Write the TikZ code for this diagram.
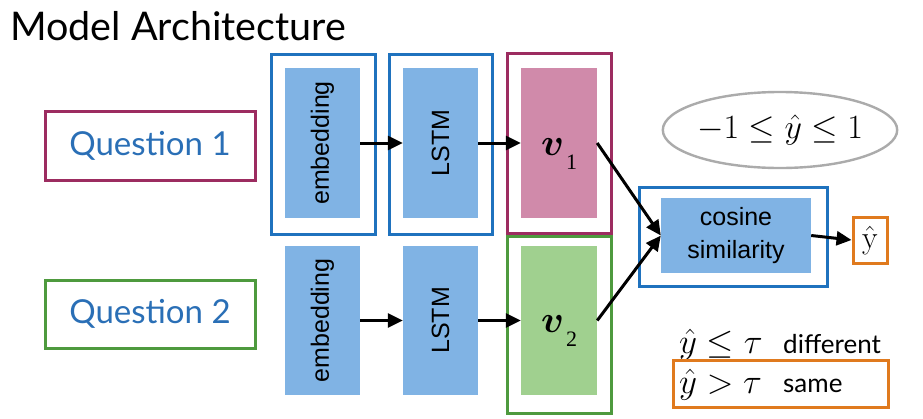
\RequirePackage{fix-cm}
\documentclass[tikz,border=0pt]{standalone}
\usepackage{amsmath,bm}
\usepackage[no-math]{fontspec}
\setmainfont{Lato}
\newfontfamily\arialf{Liberation Sans}
\newfontfamily\seriff{Liberation Serif}
\usetikzlibrary{arrows.meta,shapes.geometric}
\definecolor{bluel}{HTML}{1F72BE}
\definecolor{bluef}{HTML}{80B3E4}
\definecolor{maroonl}{HTML}{9C2C60}
\definecolor{pinkf}{HTML}{D08AAA}
\definecolor{greenl}{HTML}{4E9A3E}
\definecolor{greenf}{HTML}{A0D08F}
\definecolor{orangel}{HTML}{E07A1E}
\definecolor{qtext}{HTML}{2A6FB6}
\definecolor{greyl}{HTML}{ABABAB}
\newcommand{\vlab}[1]{$\bm{v}$\hspace{2pt}\raisebox{-14pt}{\seriff\fontsize{22}{22}\selectfont #1}}
\begin{document}
\begin{tikzpicture}[x=1pt,y=-1pt,
  outerbox/.style={draw,line width=3pt,minimum width=#1,inner sep=0pt},
  fillbox/.style={inner sep=0pt,minimum width=75pt,minimum height=150pt},
  vtext/.style={font=\arialf\fontsize{25}{30}\selectfont,rotate=90},
  vlabstyle/.style={anchor=base west,inner sep=0pt,font=\fontsize{38}{42}\selectfont},
  arr/.style={line width=3pt,-{Triangle[length=15pt,width=14pt]}},
  qtextstyle/.style={font=\fontsize{33}{40}\selectfont,text=qtext},
  ]
\useasboundingbox (0,0) rectangle (923,418);
\fill[white] (0,0) rectangle (923,418);
% title
\node[anchor=base west,inner sep=0pt,font=\fontsize{39.5}{46}\selectfont] (title) at (10,40) {Model Architecture};
% questions
\node[outerbox=210pt,draw=maroonl,minimum height=69pt,qtextstyle] (q1) at (150,145.5) {Question 1};
\node[outerbox=210pt,draw=greenl,minimum height=68pt,qtextstyle] (q2) at (150,314) {Question 2};
% upper row
\node[outerbox=104pt,draw=bluel,minimum height=180pt] (emb1o) at (323,144) {};
\node[fillbox,fill=bluef] (emb1) at (322.5,143) {};
\node[vtext] at (emb1) {embedding};
\node[outerbox=103pt,draw=bluel,minimum height=180pt] (lstm1o) at (440.5,144) {};
\node[fillbox,fill=bluef] (lstm1) at (440.5,143) {};
\node[vtext] at (lstm1) {LSTM};
\node[outerbox=104pt,draw=maroonl,minimum height=180pt] (v1o) at (559,143.5) {};
\node[fillbox,fill=pinkf,minimum width=76pt] (v1) at (559,143) {};
\node[vlabstyle] (v1t) at (541,155) {\vlab{1}};
% lower row
\node[outerbox=104pt,draw=greenl,minimum height=177pt] (v2o) at (559,324.5) {};
\node[fillbox,fill=bluef,minimum height=149pt] (emb2) at (322.5,320.5) {};
\node[vtext] at (emb2) {embedding};
\node[fillbox,fill=bluef,minimum height=149pt] (lstm2) at (440.5,320.5) {};
\node[vtext] at (lstm2) {LSTM};
\node[fillbox,fill=greenf,minimum width=76pt,minimum height=149pt] (v2) at (559,320.5) {};
\node[vlabstyle] (v2t) at (541,332) {\vlab{2}};
% cosine
\node[outerbox=188pt,draw=bluel,minimum height=99pt] (coso) at (733,236.5) {};
\node[inner sep=0pt,minimum width=150pt,minimum height=75pt,fill=bluef,align=center,
  font=\arialf\fontsize{25}{33}\selectfont] (cos) at (736,235.5) {cosine\\similarity};
\node[outerbox=34pt,draw=orangel,minimum height=46pt,font=\fontsize{32}{36}\selectfont] (yhat) at (870,240) {$\hat{\mathrm{y}}$};
% ellipse
\node[ellipse,draw=greyl,line width=2.4pt,minimum width=210pt,minimum height=76pt,inner sep=0pt,
  font=\fontsize{34}{40}\selectfont] (range) at (780,130) {$-1\leq\hat{y}\leq1$};
% decision
\node[anchor=base west,inner sep=0pt,font=\fontsize{35}{40}\selectfont] (d1) at (679,353) {$\hat{y}\leq\tau$};
\node[anchor=base west,inner sep=0pt,font=\fontsize{26}{30}\selectfont] (d1t) at (783,353) {different};
\node[outerbox=215pt,draw=orangel,minimum height=47pt] (sbox) at (780.5,383.5) {};
\node[anchor=base west,inner sep=0pt,font=\fontsize{35}{40}\selectfont] (d2) at (679,393) {$\hat{y}>\tau$};
\node[anchor=base west,inner sep=0pt,font=\fontsize{26}{30}\selectfont] (d2t) at (783,392) {same};
% arrows
\draw[arr] (emb1.east) -- (lstm1.west);
\draw[arr] (lstm1.east) -- (v1.west);
\draw[arr] (emb2.east) -- (lstm2.west);
\draw[arr] (lstm2.east) -- (v2.west);
\draw[arr] (v1.east) -- (cos.west);
\draw[arr] (v2.east) -- (cos.west);
\draw[arr] (cos.east) -- (yhat.west);
\end{tikzpicture}
\end{document}
